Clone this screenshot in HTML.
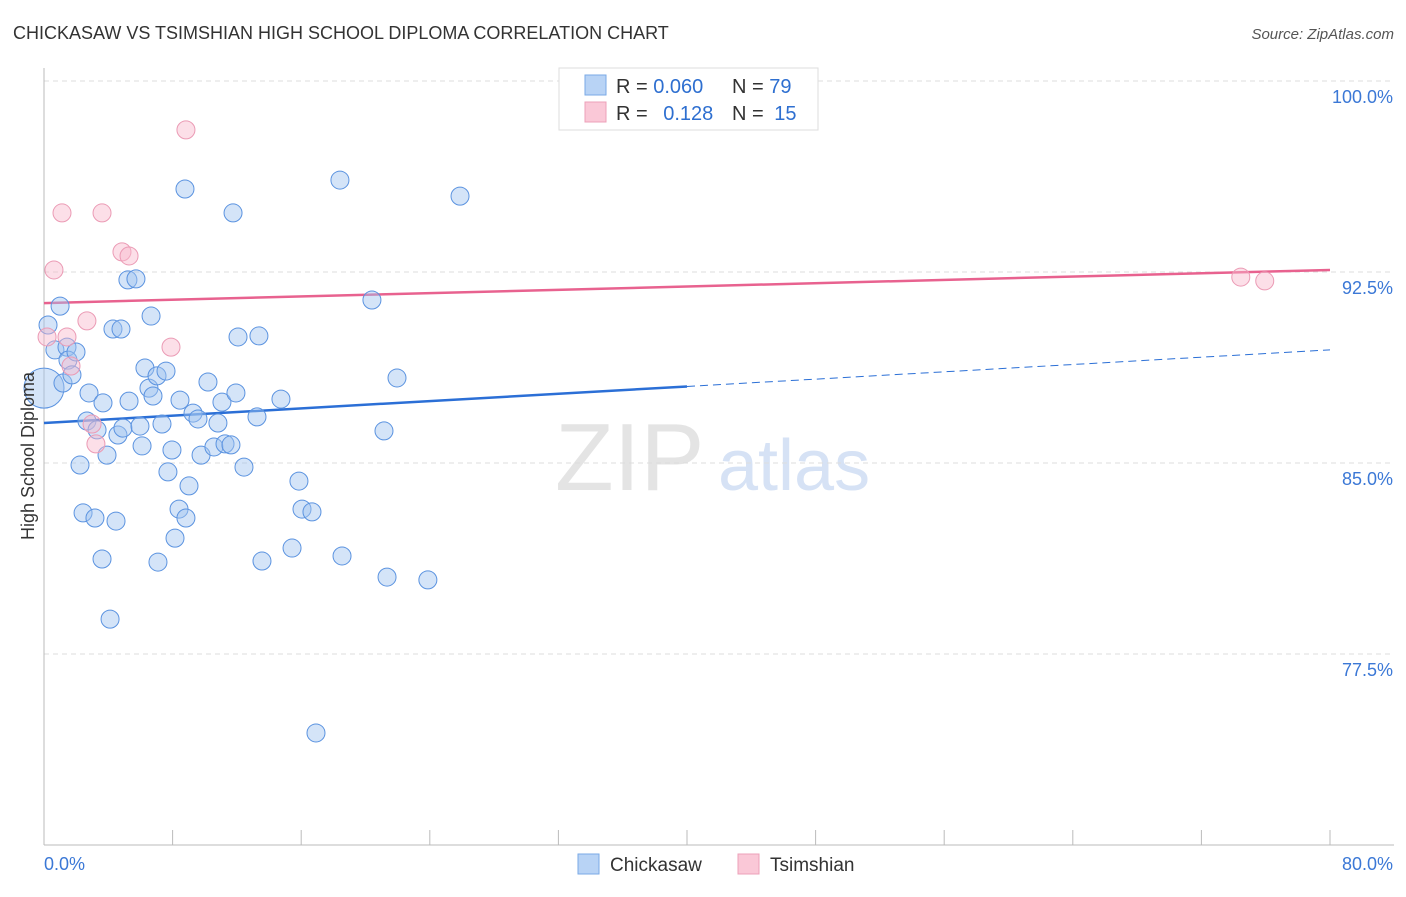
<!DOCTYPE html>
<html><head><meta charset="utf-8"><style>
body{margin:0;background:#fff;font-family:"Liberation Sans",sans-serif}
svg text{font-family:"Liberation Sans",sans-serif}
</style></head><body>
<svg id="chart" width="1406" height="892" viewBox="0 0 1406 892" xmlns="http://www.w3.org/2000/svg">
<text x="13" y="39" font-size="18" fill="#333">CHICKASAW VS TSIMSHIAN HIGH SCHOOL DIPLOMA CORRELATION CHART</text>
<text x="1394" y="39" font-size="15" fill="#555" text-anchor="end" font-style="italic">Source: ZipAtlas.com</text>
<g>
<text x="555" y="490" font-size="96" fill="#e4e4e4" font-family="Liberation Serif,serif">ZIP</text>
<text x="718" y="490" font-size="72" fill="#d6e2f5">atlas</text>
</g>
<g id="grid"></g>
<g id="axes"></g>
<g id="lines"></g>
<g id="points"></g>
<text transform="translate(34,456) rotate(-90)" font-size="18" fill="#333" text-anchor="middle">High School Diploma</text>
<g>
<rect x="559" y="68" width="259" height="62" fill="#fff" stroke="#ddd"/>
<rect x="585" y="75" width="21" height="20" fill="#b8d3f5" stroke="#7aa9e6"/>
<rect x="585" y="102" width="21" height="20" fill="#fac8d7" stroke="#eca0b8"/>
<text x="616" y="93" font-size="20" fill="#333">R = <tspan fill="#2e6fd0">0.060</tspan></text>
<text x="732" y="93" font-size="20" fill="#333">N = <tspan fill="#2e6fd0">79</tspan></text>
<text x="616" y="120" font-size="20" fill="#333">R = <tspan fill="#2e6fd0" dx="10">0.128</tspan></text>
<text x="732" y="120" font-size="20" fill="#333">N = <tspan fill="#2e6fd0" dx="5">15</tspan></text>
</g>
<g>
<rect x="578" y="854" width="21" height="20" fill="#b8d3f5" stroke="#7aa9e6"/>
<text x="610" y="871" font-size="19" fill="#333">Chickasaw</text>
<rect x="738" y="854" width="21" height="20" fill="#fac8d7" stroke="#eca0b8"/>
<text x="770" y="871" font-size="19" fill="#333">Tsimshian</text>
</g>
</svg>
<script>
const yTicks=[100,92.5,85,77.5];
const yTickLabels=["100.0%","92.5%","85.0%","77.5%"];
const xTickLabels=["0.0%","80.0%"];
const blueX=[0,0.25,1.0,0.68,1.18,1.43,1.49,1.74,1.99,2.24,2.43,2.67,2.80,3.17,3.30,3.61,3.67,3.92,4.11,4.29,4.48,4.60,4.79,4.91,5.22,5.29,5.72,5.97,6.10,6.28,6.53,6.66,6.78,7.03,7.09,7.34,7.59,7.71,7.96,8.15,8.40,8.46,8.77,8.83,9.02,9.27,9.58,9.77,10.20,10.57,10.82,11.07,11.26,11.63,11.76,11.94,12.07,12.44,13.25,13.37,13.56,14.74,15.43,15.86,16.05,16.67,16.92,18.41,18.54,20.40,21.15,21.34,21.96,23.88,25.88,36.82];
const blueY=[87.94,90.42,91.16,89.44,88.14,89.55,89.04,88.46,89.36,84.92,83.04,86.65,87.75,82.84,86.30,81.23,87.36,85.31,78.87,90.26,82.72,86.10,90.26,86.37,92.19,87.43,92.23,86.45,85.67,88.73,87.94,90.77,87.63,88.42,81.11,86.53,88.61,84.65,85.51,82.05,83.19,87.47,95.76,82.84,84.10,86.96,86.73,85.31,88.18,85.63,86.57,87.39,85.75,85.71,94.82,87.75,89.95,84.84,86.81,89.99,81.15,87.51,81.66,84.29,83.19,83.08,74.40,96.11,81.35,91.40,86.26,80.52,88.34,80.41,95.48,100.12];
const pinkX=[0.19,0.62,1.12,1.43,1.68,2.67,2.99,3.23,3.61,4.85,5.29,7.90,8.83,74.45,75.94];
const pinkY=[89.95,92.58,94.82,89.95,88.81,90.58,86.53,85.75,94.82,93.29,93.13,89.55,98.08,92.30,92.15];
const blueTrend=[86.57,0.0359]; // intercept, slope
const pinkTrend=[91.28,0.01625];
const NS="http://www.w3.org/2000/svg";
const X0=44,X1=1330,YTOP=81;
const sx=v=>X0+v/80*(X1-X0);
const sy=v=>YTOP+(100-v)/7.5*191;
function mk(tag,attrs,parent){const e=document.createElementNS(NS,tag);for(const k in attrs)e.setAttribute(k,attrs[k]);document.getElementById(parent).appendChild(e);return e;}
yTicks.forEach((t,i)=>{
 const g=mk('line',{x1:44,x2:1394,y1:sy(t),y2:sy(t),stroke:'#ddd','stroke-dasharray':'5,4'},'grid');
 
 
 const tx=mk('text',{x:1393,y:sy(t)+22,'font-size':18,fill:'#3b78d6','text-anchor':'end'},'axes');
 tx.textContent=yTickLabels[i];
 
 
});
const ax=mk('line',{x1:44,x2:44,y1:68,y2:845,stroke:'#bbb'},'axes');


const bx=mk('line',{x1:44,x2:1394,y1:845,y2:845,stroke:'#bbb'},'axes');


for(let i=0;i<=10;i++){
 const t=mk('line',{x1:sx(i*8),x2:sx(i*8),y1:830,y2:845,stroke:'#bbb'},'axes');
 
 
}
const xl0=mk('text',{x:44,y:870,'font-size':18,fill:'#3b78d6'},'axes');xl0.textContent=xTickLabels[0];


const xl1=mk('text',{x:1393,y:870,'font-size':18,fill:'#3b78d6','text-anchor':'end'},'axes');xl1.textContent=xTickLabels[1];


const bl=v=>blueTrend[0]+blueTrend[1]*v, pl=v=>pinkTrend[0]+pinkTrend[1]*v;
const l1=mk('line',{x1:sx(0),y1:sy(bl(0)),x2:sx(40),y2:sy(bl(40)),stroke:'#2b6fd6','stroke-width':2.5},'lines');


const l2=mk('line',{x1:sx(40),y1:sy(bl(40)),x2:sx(80),y2:sy(bl(80)),stroke:'#2b6fd6','stroke-width':1,'stroke-dasharray':'8,5'},'lines');


const l3=mk('line',{x1:sx(0),y1:sy(pl(0)),x2:sx(80),y2:sy(pl(80)),stroke:'#e8628f','stroke-width':2.5},'lines');


blueX.forEach((x,i)=>{
 const c=mk('circle',{cx:sx(x),cy:sy(blueY[i]),r:i===0?20:9,fill:'rgba(160,196,240,0.45)',stroke:'#5b93e0','stroke-width':1},'points');
 
 
});
pinkX.forEach((x,i)=>{
 const c=mk('circle',{cx:sx(x),cy:sy(pinkY[i]),r:9,fill:'rgba(248,185,205,0.45)',stroke:'#eb9bb5','stroke-width':1},'points');
 
 
});
</script>
</body></html>
